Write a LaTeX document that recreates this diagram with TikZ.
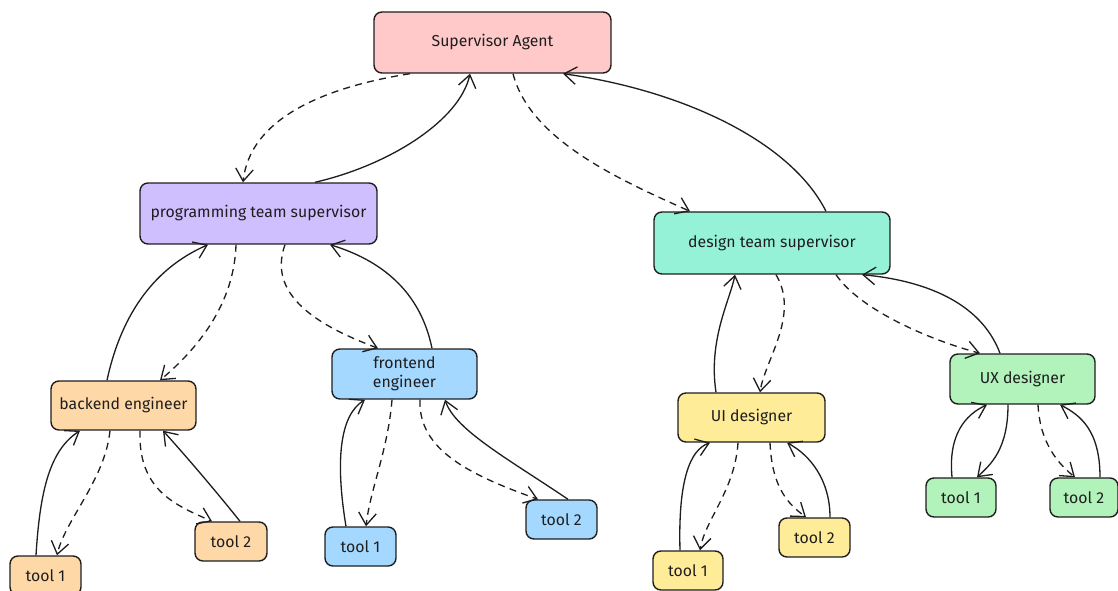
\documentclass[tikz,border=0pt]{standalone}
\usepackage{fontspec}
\setmainfont{Fira Sans}
\usetikzlibrary{arrows.meta,calc}
\definecolor{ink}{HTML}{1E1E1E}
\definecolor{cpink}{HTML}{FFC9C9}
\definecolor{cviolet}{HTML}{D0BFFF}
\definecolor{cteal}{HTML}{96F2D7}
\definecolor{corange}{HTML}{FFD8A8}
\definecolor{cblue}{HTML}{A5D8FF}
\definecolor{cyellow}{HTML}{FFEC99}
\definecolor{cgreen}{HTML}{B2F2BB}
\tikzset{
  box/.style={draw=ink, line width=0.8pt, rounded corners=4.5pt, text=ink,
    font=\fontsize{9}{11}\selectfont, align=center, inner sep=2pt},
  conn/.style={draw=ink, line width=0.75pt, -{Straight Barb[length=7pt,width=10pt]}},
  solidc/.style={conn},
  dashc/.style={conn, dash pattern=on 4pt off 3pt},
}
\begin{document}
\begin{tikzpicture}[x=0.02cm,y=-0.02cm]
\useasboundingbox (0,0) rectangle (1118,591);
% nodes
\node[box, fill=cpink, minimum width=4.74cm, minimum height=1.22cm] (sup) at (492.5,42.5) {Supervisor Agent};
\node[box, fill=cviolet, minimum width=4.74cm, minimum height=1.22cm] (prog) at (258.5,213.5) {programming team supervisor};
\node[box, fill=cteal, minimum width=4.72cm, minimum height=1.24cm] (des) at (772,243) {design team supervisor};
\node[box, fill=corange, minimum width=2.9cm, minimum height=0.98cm] (be) at (123.5,405.5) {backend engineer};
\node[box, fill=cblue, minimum width=2.9cm, minimum height=1.0cm] (fe) at (404.5,374) {frontend\\engineer};
\node[box, fill=cyellow, minimum width=2.94cm, minimum height=0.98cm] (ui) at (751.5,417.5) {UI designer};
\node[box, fill=cgreen, minimum width=2.9cm, minimum height=1.0cm] (ux) at (1022.5,379) {UX designer};
\node[box, fill=corange, minimum width=1.42cm, minimum height=0.78cm] (bet1) at (45.5,575.5) {tool 1};
\node[box, fill=corange, minimum width=1.44cm, minimum height=0.78cm] (bet2) at (231,541.5) {tool 2};
\node[box, fill=cblue, minimum width=1.42cm, minimum height=0.78cm] (fet1) at (360.5,546.5) {tool 1};
\node[box, fill=cblue, minimum width=1.42cm, minimum height=0.78cm] (fet2) at (561.5,519.5) {tool 2};
\node[box, fill=cyellow, minimum width=1.4cm, minimum height=0.78cm] (uit1) at (688,570.5) {tool 1};
\node[box, fill=cyellow, minimum width=1.42cm, minimum height=0.78cm] (uit2) at (814.5,537.5) {tool 2};
\node[box, fill=cgreen, minimum width=1.4cm, minimum height=0.78cm] (uxt1) at (961,497.5) {tool 1};
\node[box, fill=cgreen, minimum width=1.36cm, minimum height=0.78cm] (uxt2) at (1084,497.5) {tool 2};
% supervisor <-> team supervisors
\draw[dashc] ($(sup.south)+(-82.5,0)$) .. controls (320,88) and (250,120) .. ($(prog.north)+(-15.5,0)$);
\draw[solidc] ($(prog.north)+(56.5,0)$) .. controls (390,165) and (460,120) .. ($(sup.south)+(-22.5,0)$);
\draw[dashc] ($(sup.south)+(20.5,0)$) .. controls (530,140) and (620,180) .. ($(des.north)+(-82,0)$);
\draw[solidc] ($(des.north)+(54,0)$) .. controls (790,140) and (680,90) .. ($(sup.south)+(70.5,0)$);
% programming team
\draw[dashc] ($(prog.south)+(-22.5,0)$) .. controls (234,310) and (190,355) .. ($(be.north)+(36.5,0)$);
\draw[solidc] ($(be.north)+(-16.5,0)$) .. controls (120,320) and (150,270) .. ($(prog.south)+(-50.5,0)$);
\draw[dashc] ($(prog.south)+(26.5,0)$) .. controls (265,300) and (330,330) .. ($(fe.north)+(-26.5,0)$);
\draw[solidc] ($(fe.north)+(27.5,0)$) .. controls (420,290) and (380,260) .. ($(prog.south)+(71.5,0)$);
% backend tools
\draw[dashc] ($(be.south)+(-13.5,0)$) .. controls (105,480) and (65,520) .. ($(bet1.north)+(11.5,0)$);
\draw[solidc] ($(bet1.north)+(-9.5,0)$) .. controls (40,490) and (50,450) .. ($(be.south)+(-43.5,0)$);
\draw[dashc] ($(be.south)+(16.5,0)$) .. controls (138,490) and (175,505) .. ($(bet2.north)+(-19,0)$);
\draw[solidc] ($(bet2.north)+(9,0)$) .. controls (215,490) and (185,455) .. ($(be.south)+(39.5,0)$);
% frontend tools
\draw[dashc] ($(fe.south)+(-12.5,0)$) .. controls (388,450) and (370,490) .. ($(fet1.north)+(5.5,0)$);
\draw[solidc] ($(fet1.north)+(-14.5,0)$) .. controls (335,460) and (340,415) .. ($(fe.south)+(-39.5,0)$);
\draw[dashc] ($(fe.south)+(15.5,0)$) .. controls (418,450) and (470,475) .. ($(fet2.north)+(-23.5,0)$);
\draw[solidc] ($(fet2.north)+(6.5,0)$) .. controls (510,460) and (455,430) .. ($(fe.south)+(40.5,0)$);
% design team
\draw[dashc] ($(des.south)+(4,0)$) .. controls (800,315) and (765,360) .. ($(ui.north)+(8.5,0)$);
\draw[solidc] ($(ui.north)+(-35.5,0)$) .. controls (708,340) and (730,300) .. ($(des.south)+(-37,0)$);
\draw[dashc] ($(des.south)+(64,0)$) .. controls (860,310) and (930,340) .. ($(ux.north)+(-42.5,0)$);
\draw[solidc] ($(ux.north)+(-22.5,0)$) .. controls (980,300) and (920,280) .. ($(des.south)+(90,0)$);
% UI tools
\draw[dashc] ($(ui.south)+(-13.5,0)$) .. controls (735,490) and (705,520) .. ($(uit1.north)+(12,0)$);
\draw[solidc] ($(uit1.north)+(-8,0)$) .. controls (678,480) and (690,450) .. ($(ui.south)+(-41.5,0)$);
\draw[dashc] ($(ui.south)+(18.5,0)$) .. controls (772,490) and (790,505) .. ($(uit2.north)+(-8.5,0)$);
\draw[solidc] ($(uit2.north)+(15.5,0)$) .. controls (830,480) and (810,455) .. ($(ui.south)+(35.5,0)$);
% UX tools
\draw[solidc] ($(ux.south)+(-14.5,0)$) .. controls (1008,450) and (990,465) .. ($(uxt1.north)+(16,0)$);
\draw[solidc] ($(uxt1.north)+(-9,0)$) .. controls (948,435) and (965,415) .. ($(ux.south)+(-35.5,0)$);
\draw[dashc] ($(ux.south)+(15.5,0)$) .. controls (1040,445) and (1060,465) .. ($(uxt2.north)+(-9,0)$);
\draw[solidc] ($(uxt2.north)+(16,0)$) .. controls (1100,430) and (1080,415) .. ($(ux.south)+(37.5,0)$);
\end{tikzpicture}
\end{document}
